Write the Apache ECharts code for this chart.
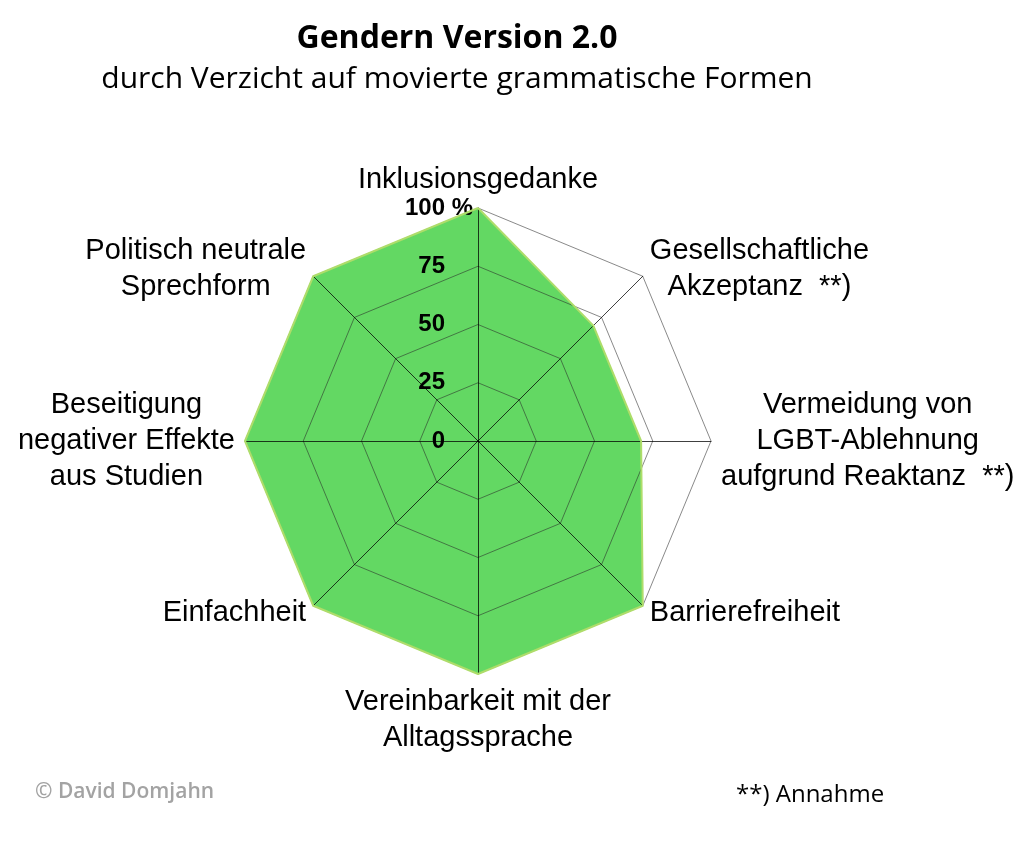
<!DOCTYPE html>
<html>
<head>
<meta charset="utf-8">
<script src="https://cdn.jsdelivr.net/npm/echarts@6/dist/echarts.min.js"></script>
<style>html,body{margin:0;padding:0;background:#fff}#c{width:1024px;height:844px}</style>
</head>
<body>
<div id="c"></div>
<script>
// Indicators in ECharts order (counter-clockwise starting at top)
const categories = [
  'Inklusionsgedanke',
  'Politisch neutrale\nSprechform',
  'Beseitigung\nnegativer Effekte\naus Studien',
  'Einfachheit',
  'Vereinbarkeit mit der\nAlltagssprache',
  'Barrierefreiheit',
  'Vermeidung von\nLGBT-Ablehnung\naufgrund Reaktanz  **)',
  'Gesellschaftliche\nAkzeptanz  **)'
];
const values = [100, 100, 100, 100, 100, 100, 70, 70];
const axisMax = 100;
const tickLabels = ['0', '25', '50', '75', '100'];
const tickUnit = ' %';
const titleText = 'Gendern Version 2.0';
const subtitleText = 'durch Verzicht auf movierte grammatische Formen';
const footLeft = '© David Domjahn';
const footRight = '**) Annahme';

const chart = echarts.init(document.getElementById('c'), null, {renderer: 'canvas'});
const LAB = 'Liberation Sans, Arial, sans-serif';

const indicator = categories.map((c, i) => {
  const o = {name: c, max: axisMax, min: 0};
  if (i === 0) {
    o.axisLabel = {
      show: true,
      formatter: function (v) {
        const idx = Math.round(v / 25);
        const t = tickLabels[idx];
        if (t === undefined) return '';
        const last = idx === tickLabels.length - 1;
        return '{n|' + t + '}' + (last ? '{p|' + tickUnit + '}' : '{h|' + tickUnit + '}');
      }
    };
  }
  return o;
});

chart.setOption({
  animation: false,
  backgroundColor: '#ffffff',
  title: {
    text: titleText,
    subtext: subtitleText,
    left: 452,
    top: 15,
    textAlign: 'center',
    itemGap: 3,
    textStyle: {fontFamily: 'Open Sans', fontWeight: 'bold', fontSize: 32, color: '#000', lineHeight: 38},
    subtextStyle: {fontFamily: 'Open Sans', fontSize: 30, color: '#000', lineHeight: 36}
  },
  radar: {
    z: 3,
    center: [478, 441],
    radius: 233,
    startAngle: 90,
    shape: 'polygon',
    splitNumber: 4,
    nameGap: 10,
    indicator: indicator,
    axisName: {
      color: '#000',
      fontFamily: LAB,
      fontSize: 29,
      formatter: function (name) {
        return name.split('\n').map(l => '{c|' + l + '}').join('\n');
      },
      rich: {
        c: {align: 'center', fontFamily: LAB, fontSize: 29, lineHeight: 36, color: '#000'}
      }
    },
    axisLine: {show: true, lineStyle: {color: 'rgba(0,0,0,0.75)', width: 1}},
    splitLine: {show: true, lineStyle: {color: 'rgba(40,40,40,0.55)', width: 1}},
    splitArea: {show: false},
    axisTick: {show: false},
    axisLabel: {
      show: false,
      margin: 5,
      color: '#000',
      fontWeight: 'bold',
      fontFamily: LAB,
      fontSize: 24,
      rich: {
        n: {fontFamily: LAB, fontWeight: 'bold', fontSize: 24, color: '#000'},
        p: {fontFamily: LAB, fontWeight: 'bold', fontSize: 24, color: '#000'},
        h: {fontFamily: LAB, fontWeight: 'bold', fontSize: 24, color: 'rgba(0,0,0,0)'}
      }
    }
  },
  series: [
    {
      type: 'radar',
      z: 2,
      symbol: 'none',
      lineStyle: {width: 0, opacity: 0},
      areaStyle: {color: '#63d863', opacity: 1},
      data: [{value: values}]
    },
    {
      type: 'radar',
      z: 4,
      symbol: 'none',
      lineStyle: {color: '#aedd6a', width: 2},
      data: [{value: values}]
    }
  ],
  graphic: [
    {type: 'text', left: 35, top: 782, style: {text: footLeft, fontFamily: 'Open Sans', fontSize: 21, fontWeight: 600, fill: '#a3a3a3'}},
    {type: 'text', left: 736, top: 783, style: {text: footRight, fontFamily: 'Open Sans', fontSize: 24, fill: '#000'}}
  ]
});
</script>
</body>
</html>
